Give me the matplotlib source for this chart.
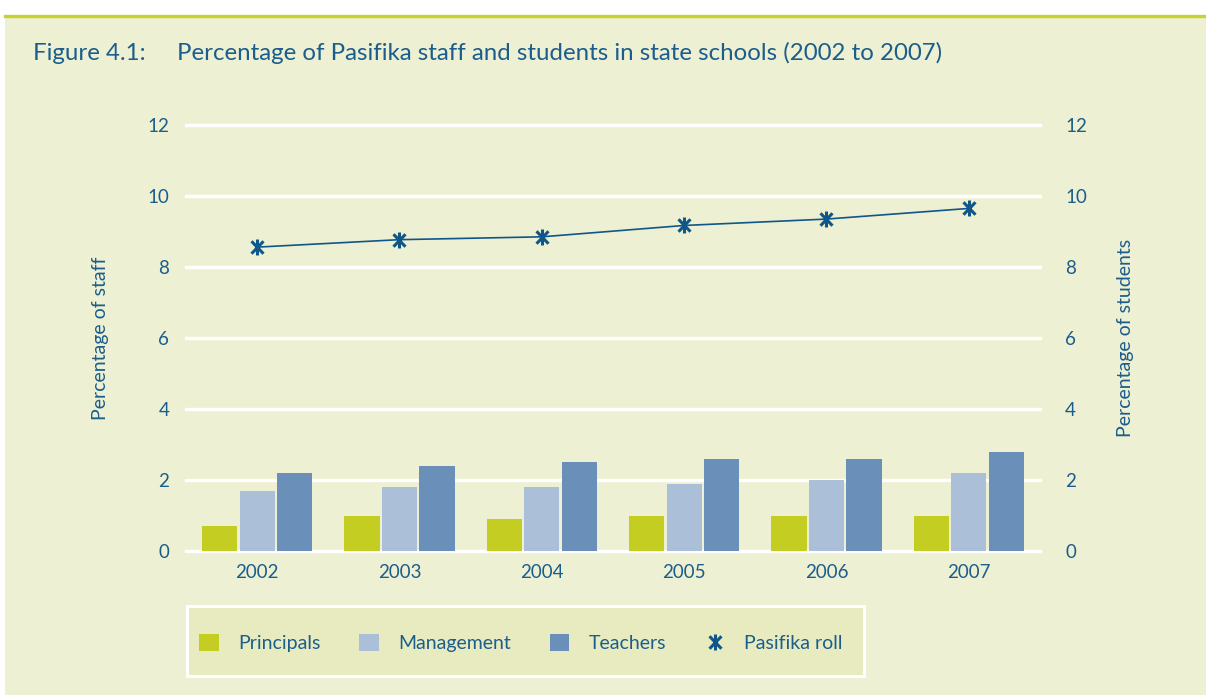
import matplotlib
matplotlib.use("Agg")
import matplotlib.pyplot as plt
from matplotlib.patches import Rectangle, Patch
from matplotlib.lines import Line2D
from matplotlib.path import Path
import numpy as np

years = ["2002", "2003", "2004", "2005", "2006", "2007"]
principals = [0.7, 1.0, 0.9, 1.0, 1.0, 1.0]
management = [1.7, 1.8, 1.8, 1.9, 2.0, 2.2]
teachers = [2.2, 2.4, 2.5, 2.6, 2.6, 2.8]
pasifika_roll = [8.56, 8.77, 8.85, 9.17, 9.35, 9.65]
yticks = [0, 2, 4, 6, 8, 10, 12]

TXT = "#1b5d8c"
BG = "#edf0d2"
C_PRIN = "#c3cd22"
C_MAN = "#acbfd9"
C_TEA = "#6a90ba"
C_LINE = "#0f578a"
FONT = "Lato"

# asterisk marker: vertical bar plus X
AST = Path([(0, -1), (0, 1), (-0.75, -0.78), (0.75, 0.78), (-0.75, 0.78), (0.75, -0.78)],
           [Path.MOVETO, Path.LINETO, Path.MOVETO, Path.LINETO, Path.MOVETO, Path.LINETO])

W, H = 1206, 695
fig = plt.figure(figsize=(W / 100, H / 100), dpi=100, facecolor="white")

def fx(px):
    return px / W

def fy(py):
    return 1 - py / H

# background panel and top rule
fig.patches.append(Rectangle((fx(5), 0), 1 - fx(5), fy(17), transform=fig.transFigure,
                             facecolor=BG, edgecolor="none", zorder=-10))
fig.add_artist(Line2D([fx(5), 1], [fy(15.5), fy(15.5)], color="#c7d22e", lw=2.4,
                      transform=fig.transFigure, zorder=-9))

# title
fig.text(fx(33), fy(53), "Figure 4.1:", color=TXT, fontsize=17.3, family=FONT, va="center")
fig.text(fx(177), fy(53), "Percentage of Pasifika staff and students in state schools (2002 to 2007)",
         color=TXT, fontsize=17.3, family=FONT, va="center")

ax = fig.add_axes([fx(186), fy(551), fx(1040) - fx(186), fy(125) - fy(551)])
ax.set_facecolor("none")
x = np.arange(len(years))
bw = 0.248
off = 0.264
ax.bar(x - off, principals, bw, color=C_PRIN, zorder=3)
ax.bar(x, management, bw, color=C_MAN, zorder=3)
ax.bar(x + off, teachers, bw, color=C_TEA, zorder=3)
for t in yticks:
    ax.axhline(t, color="white", lw=2.4, zorder=1, clip_on=False)
ax.set_xlim(-0.5, 5.5)
ax.set_ylim(0, 12)
ax.set_yticks(yticks)
ax.set_xticks(x)
ax.set_xticklabels(years)
for s in ax.spines.values():
    s.set_visible(False)
ax.tick_params(length=0, colors=TXT, labelsize=13.5)
ax.tick_params(axis="y", pad=12)
ax.tick_params(axis="x", pad=9)
for lab in ax.get_xticklabels() + ax.get_yticklabels():
    lab.set_family(FONT)
ax.set_ylabel("Percentage of staff", color=TXT, fontsize=14, family=FONT, labelpad=28)

ax2 = ax.twinx()
ax2.set_ylim(0, 12)
ax2.set_yticks(yticks)
ax2.plot(x, pasifika_roll, color=C_LINE, lw=1.2, marker=AST, markersize=11.5,
         markeredgewidth=2.2, zorder=4)
for s in ax2.spines.values():
    s.set_visible(False)
ax2.tick_params(length=0, colors=TXT, labelsize=13.5, pad=18)
for lab in ax2.get_yticklabels():
    lab.set_family(FONT)
ax2.set_ylabel("Percentage of students", color=TXT, fontsize=14, family=FONT,
               rotation=90, labelpad=22)
ax2.yaxis.set_label_position("right")

# legend box
fig.patches.append(Rectangle((fx(187), fy(676)), fx(864) - fx(187), fy(606) - fy(676),
                             transform=fig.transFigure, facecolor="#e8ebc0",
                             edgecolor="white", lw=2.2, zorder=1))
handles = [Patch(facecolor=C_PRIN, edgecolor="none"),
           Patch(facecolor=C_MAN, edgecolor="none"),
           Patch(facecolor=C_TEA, edgecolor="none"),
           Line2D([], [], color=C_LINE, lw=0, marker=AST, markersize=11.5, markeredgewidth=2.2)]
labels = ["Principals", "Management", "Teachers", "Pasifika roll"]
leg = fig.legend(handles, labels, loc="center", bbox_to_anchor=(fx(521), fy(643)), ncol=4,
                 frameon=False, handlelength=1.0, handleheight=1.0, handletextpad=1.0,
                 columnspacing=2.0, prop={"family": FONT, "size": 14})
for t in leg.get_texts():
    t.set_color(TXT)

fig.savefig("out.png", dpi=100, facecolor="white")
